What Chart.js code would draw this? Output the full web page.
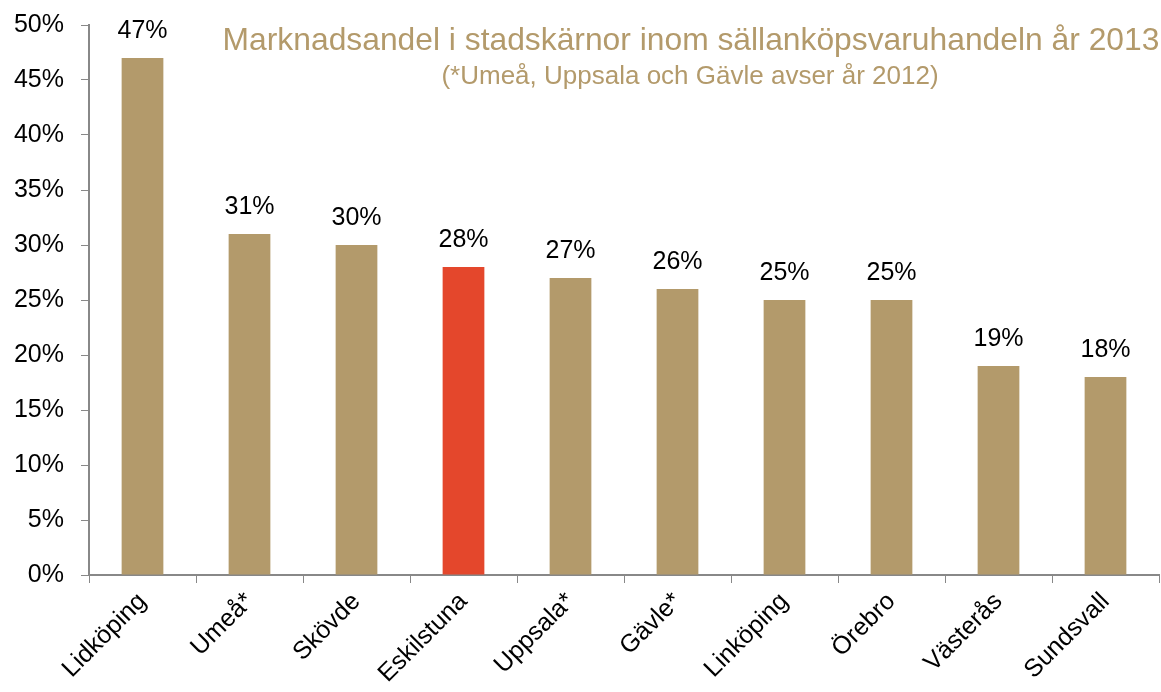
<!DOCTYPE html>
<html>
<head>
<meta charset="utf-8">
<script src="https://cdn.jsdelivr.net/npm/chart.js@4"></script>
<style>
  html, body { margin: 0; padding: 0; background: #fff; }
  #wrap { width: 1161px; height: 692px; }
</style>
</head>
<body>
<div id="wrap"><canvas id="chart"></canvas></div>
<script>
// data
const cities = ['Lidköping', 'Umeå*', 'Skövde', 'Eskilstuna', 'Uppsala*', 'Gävle*', 'Linköping', 'Örebro', 'Västerås', 'Sundsvall'];
const shares = [47, 31, 30, 28, 27, 26, 25, 25, 19, 18];
const highlight = 'Eskilstuna';
const titleText = 'Marknadsandel i stadskärnor inom sällanköpsvaruhandeln år 2013';
const subtitleText = '(*Umeå, Uppsala och Gävle avser år 2012)';

const tan = '#B39A6B';
const red = '#E4472C';
const font = 'Arial, "Liberation Sans", sans-serif';

// etiketter över staplarna + rubrik i diagrammet
const labelPlugin = {
  id: 'labels',
  afterDatasetsDraw(chart) {
    const ctx = chart.ctx;
    const meta = chart.getDatasetMeta(0);
    ctx.save();
    ctx.fillStyle = '#000';
    ctx.font = '25px ' + font;
    ctx.textAlign = 'center';
    ctx.textBaseline = 'bottom';
    meta.data.forEach((bar, i) => {
      ctx.fillText(shares[i] + '%', bar.x, bar.y - 14);
    });
    ctx.fillStyle = tan;
    ctx.font = '31.8px ' + font;
    ctx.textBaseline = 'middle';
    ctx.fillText(titleText, 691, 41);
    ctx.font = '26px ' + font;
    ctx.fillText(subtitleText, 690, 77);
    ctx.restore();
  }
};

new Chart(document.getElementById('chart'), {
  type: 'bar',
  data: {
    labels: cities,
    datasets: [{
      data: shares,
      backgroundColor: cities.map(c => c === highlight ? red : tan),
      barPercentage: 1,
      categoryPercentage: 0.39
    }]
  },
  options: {
    responsive: true,
    maintainAspectRatio: false,
    animation: false,
    layout: { padding: { top: 25, right: 2, left: 0, bottom: 0 } },
    plugins: {
      legend: { display: false },
      tooltip: { enabled: false }
    },
    scales: {
      y: {
        min: 0,
        max: 50,
        afterFit: s => { s.width = 89; s.paddingTop = 0; s.paddingBottom = 0; },
        ticks: {
          stepSize: 5,
          color: '#000',
          padding: 17,
          font: { size: 25, family: font },
          callback: v => v + '%'
        },
        grid: { drawOnChartArea: false, tickLength: 8, color: '#888' },
        border: { color: '#888', width: 2 }
      },
      x: {
        afterFit: s => { s.height = 117; },
        ticks: {
          color: '#000',
          maxRotation: 45,
          minRotation: 45,
          padding: 4,
          font: { size: 25, family: font }
        },
        grid: { drawOnChartArea: false, offset: true, tickLength: 8, color: '#888' },
        border: { color: '#888', width: 2 }
      }
    }
  },
  plugins: [labelPlugin]
});
</script>
</body>
</html>
